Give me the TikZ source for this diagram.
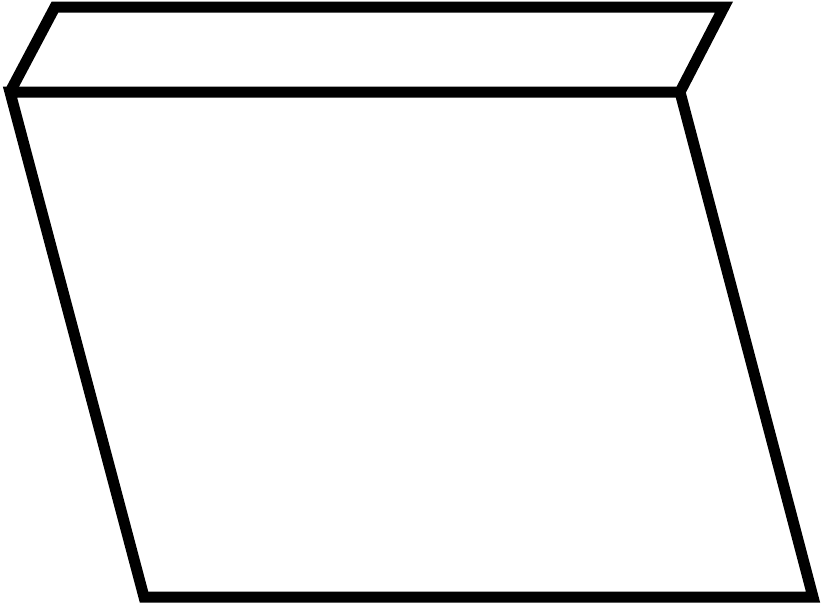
\documentclass[tikz,border=0pt]{standalone}
\begin{document}
\begin{tikzpicture}[x=1pt,y=-1pt,
  edge/.style={line width=11pt,line join=miter,miter limit=10}]
\useasboundingbox (0,0) rectangle (823,603);
\coordinate (tl) at (10,92);
\coordinate (tr) at (680,92);
\coordinate (br) at (813,597);
\coordinate (bl) at (144,597);
\coordinate (ttl) at (55,7);
\coordinate (ttr) at (724,7);
\draw[edge] (tl) -- (tr) -- (br) -- (bl) -- cycle;
\draw[edge] (tl) -- (ttl) -- (ttr) -- (tr);
\end{tikzpicture}
\end{document}
